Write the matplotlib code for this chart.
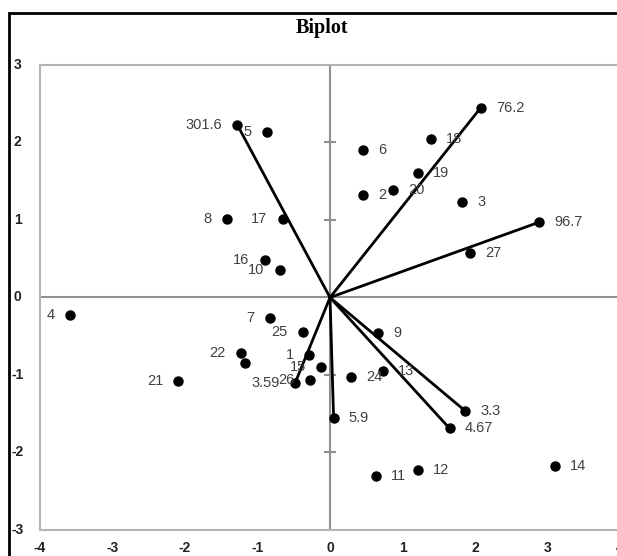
import matplotlib
matplotlib.use('Agg')
import matplotlib.pyplot as plt
import matplotlib.patches as patches

# observations (scores)
obs_labels = ['1', '2', '3', '4', '5', '6', '7', '8', '9', '10', '11', '12', '13', '14',
              '15', '16', '17', '18', '19', '20', '21', '22', '', '24', '25', '26', '27']
obs_x = [-0.29, 0.45, 1.82, -3.58, -0.87, 0.45, -0.83, -1.42, 0.66, -0.69, 0.63, 1.21, 0.73, 3.10,
         -0.12, -0.90, -0.65, 1.39, 1.21, 0.87, -2.09, -1.23, -1.17, 0.29, -0.37, -0.28, 1.93]
obs_y = [-0.74, 1.32, 1.23, -0.22, 2.14, 1.90, -0.27, 1.01, -0.46, 0.36, -2.30, -2.22, -0.95, -2.17,
         -0.90, 0.48, 1.01, 2.05, 1.61, 1.39, -1.08, -0.72, -0.84, -1.02, -0.44, -1.07, 0.58]

# variable vectors (loadings)
vec_labels = ['301.6', '76.2', '96.7', '3.59', '5.9', '3.3', '4.67']
vec_x = [-1.28, 2.08, 2.88, -0.48, 0.05, 1.86, 1.65]
vec_y = [2.23, 2.45, 0.97, -1.10, -1.56, -1.46, -1.69]

x_ticks = [-4, -3, -2, -1, 0, 1, 2, 3, 4]
y_ticks = [-3, -2, -1, 0, 1, 2, 3]

W, H = 617, 556
fig = plt.figure(figsize=(W / 100, H / 100), dpi=100)
ax = fig.add_axes([40 / W, 1 - 530 / H, (620 - 40) / W, (530 - 65) / H])
ax.set_xlim(-4, 4)
ax.set_ylim(-3, 3)

for s in ax.spines.values():
    s.set_color('#b4b4b4')
    s.set_linewidth(1.5)
ax.tick_params(length=0)
ax.set_xticks(x_ticks)
ax.set_yticks(y_ticks)
ax.set_xticklabels([])
ax.set_yticklabels([])

# tick labels placed outside plot area (Excel style)
for t in x_ticks:
    ax.annotate(str(t), (t, -3), xytext=(0, -13), textcoords='offset points',
                ha='center', va='center', fontsize=10, fontweight='bold',
                family='Liberation Sans', color='#222222', annotation_clip=False)
for t in y_ticks:
    ax.annotate(str(t), (-4, t), xytext=(-16, 0), textcoords='offset points',
                ha='center', va='center', fontsize=10, fontweight='bold',
                family='Liberation Sans', color='#222222', annotation_clip=False)

# axes through origin
ax.axhline(0, color='#909090', lw=1.5, zorder=1)
ax.axvline(0, color='#909090', lw=1.5, zorder=1)
minor = [t for t in y_ticks if t not in (-3, 0, 3)]
ax.plot([0] * len(minor), minor, ls='none', marker='_', ms=9, mew=1.5, color='#909090', zorder=1)

# vectors
for vx, vy in zip(vec_x, vec_y):
    ax.plot([0, vx], [0, vy], color='black', lw=2, zorder=2)
ax.plot(vec_x, vec_y, 'o', color='black', ms=6.5, zorder=3, clip_on=False)
ax.plot(obs_x, obs_y, 'o', color='black', ms=6.5, zorder=3, clip_on=False)

def put_label(x, y, txt):
    if not txt:
        return
    off = -11 if x < 0 else 11
    ax.annotate(txt, (x, y), xytext=(off, 0), textcoords='offset points',
                ha='right' if x < 0 else 'left', va='center', fontsize=10.5,
                family='Liberation Sans', color='#404040', zorder=4)

for lx, ly, lt in zip(obs_x, obs_y, obs_labels):
    put_label(lx, ly, lt)
for lx, ly, lt in zip(vec_x, vec_y, vec_labels):
    put_label(lx, ly, lt)

fig.text(322 / W, 1 - 28 / H, 'Biplot', ha='center', va='center', fontsize=14.5,
         fontweight='bold', family='Liberation Serif')

# outer chart frame (only left and top edges visible in crop)
frame = patches.Rectangle((9 / W, -0.5), 2, 1.5 - 13 / H, transform=fig.transFigure,
                          fill=False, edgecolor='black', lw=2)
fig.add_artist(frame)

fig.savefig('out.png', dpi=100)
